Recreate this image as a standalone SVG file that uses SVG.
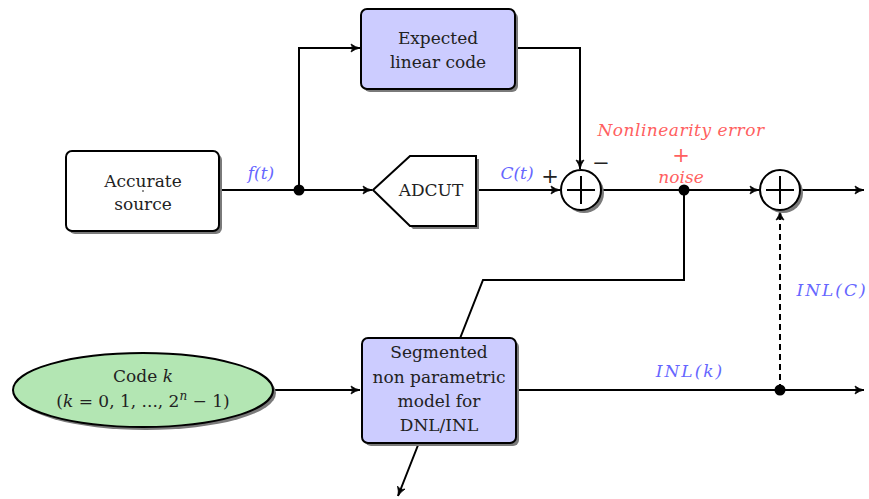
<svg xmlns="http://www.w3.org/2000/svg" width="869" height="499" viewBox="0 0 869 499">
<style>
text{font-family:"DejaVu Serif","Liberation Serif",serif;font-size:17px;fill:#222;text-anchor:middle}
.m{font-style:italic}
.blue{fill:#6666ff}
.red{fill:#ff6060}
.op{font-size:21px}
.box{stroke:#000;stroke-width:2}
.sh{fill:#7a7a7a}
.ln{fill:none;stroke:#000;stroke-width:2}
.arr{marker-end:url(#ah)}
</style>
<defs>
<marker id="ah" markerWidth="12" markerHeight="10" refX="10" refY="5" orient="auto" markerUnits="userSpaceOnUse">
<path d="M1,1 Q5,4 10,5 Q5,6 1,9 Q4,5 1,1 Z" fill="#000" stroke="#000" stroke-width="0.8" stroke-linejoin="round"/>
</marker>
</defs>

<g id="connectors">
<path class="ln" d="M219,190 H299"/>
<path class="ln arr" d="M299,190 H372"/>
<path class="ln arr" d="M299,190 V48 H360"/>
<path class="ln arr" d="M515,48 H580 V169"/>
<path class="ln arr" d="M476,190 H560"/>
<path class="ln arr" d="M601,190 H759"/>
<path class="ln arr" d="M800,190 H864"/>
<path class="ln arr" d="M684,190 V280 H483 L398,496"/>
<path class="ln arr" d="M273,390 H360"/>
<path class="ln arr" d="M516,390 H864"/>
<path class="ln arr" d="M780,390 V211" stroke-dasharray="6,4"/>
<circle cx="299" cy="190" r="5.5" fill="#000"/>
<circle cx="684" cy="190" r="5.5" fill="#000"/>
<circle cx="780" cy="390" r="5.5" fill="#000"/>
</g>

<g id="accurate-source">
<rect class="sh" x="69" y="154" width="153" height="80" rx="6"/>
<rect class="box" x="66" y="151" width="153" height="80" rx="6" fill="#fff"/>
<text x="143" y="187">Accurate</text>
<text x="143" y="210">source</text>
<circle cx="143" cy="191" r="0.8" fill="#000"/>
</g>

<g id="expected">
<rect class="sh" x="364" y="12" width="154" height="80" rx="6"/>
<rect class="box" x="361" y="9" width="154" height="80" rx="6" fill="#ccccff"/>
<text x="438" y="44">Expected</text>
<text x="438" y="68">linear code</text>
</g>

<g id="adcut">
<path class="sh" d="M376,193 L413,159 H479 V229 H413 Z"/>
<path class="box" d="M373,190 L410,156 H476 V226 H410 Z" fill="#fff"/>
<text x="431" y="196">ADCUT</text>
</g>

<g id="sum1">
<circle class="sh" cx="584" cy="193" r="20"/>
<circle class="box" cx="581" cy="190" r="20" fill="#fff"/>
<path class="ln" d="M567,190 H595 M581,176 V204"/>
</g>

<g id="sum2">
<circle class="sh" cx="783" cy="193" r="20"/>
<circle class="box" cx="780" cy="190" r="20" fill="#fff"/>
<path class="ln" d="M766,190 H794 M780,176 V204"/>
</g>

<g id="code-k">
<ellipse class="sh" cx="146" cy="393" rx="130" ry="37"/>
<ellipse class="box" cx="143" cy="390" rx="130" ry="37" fill="#b3e6b3"/>
<text x="143" y="382">Code <tspan class="m">k</tspan></text>
<text x="143" y="407">(<tspan class="m">k</tspan> = 0, 1, ..., 2<tspan class="m" font-size="12" dy="-7">n</tspan><tspan dy="7"> − 1)</tspan></text>
</g>

<g id="segmented">
<rect class="sh" x="365" y="341" width="154" height="105" rx="6"/>
<rect class="box" x="362" y="338" width="154" height="105" rx="6" fill="#ccccff"/>
<text x="439" y="358">Segmented</text>
<text x="439" y="383">non parametric</text>
<text x="439" y="407">model for</text>
<text x="439" y="431">DNL/INL</text>
</g>

<g id="labels">
<text class="m blue" x="261" y="179">f(t)</text>
<text class="m blue" x="517" y="179">C(t)</text>
<text class="op" x="550" y="183">+</text>
<text class="op" x="601" y="170">−</text>
<text class="m red" x="681" y="136" letter-spacing="0.5">Nonlinearity error</text>
<text class="red op" x="681" y="162">+</text>
<text class="m red" x="681" y="183">noise</text>
<text class="m blue" x="690" y="377" letter-spacing="2">INL(k)</text>
<text class="m blue" x="832" y="296" letter-spacing="2">INL(C)</text>
</g>
</svg>
